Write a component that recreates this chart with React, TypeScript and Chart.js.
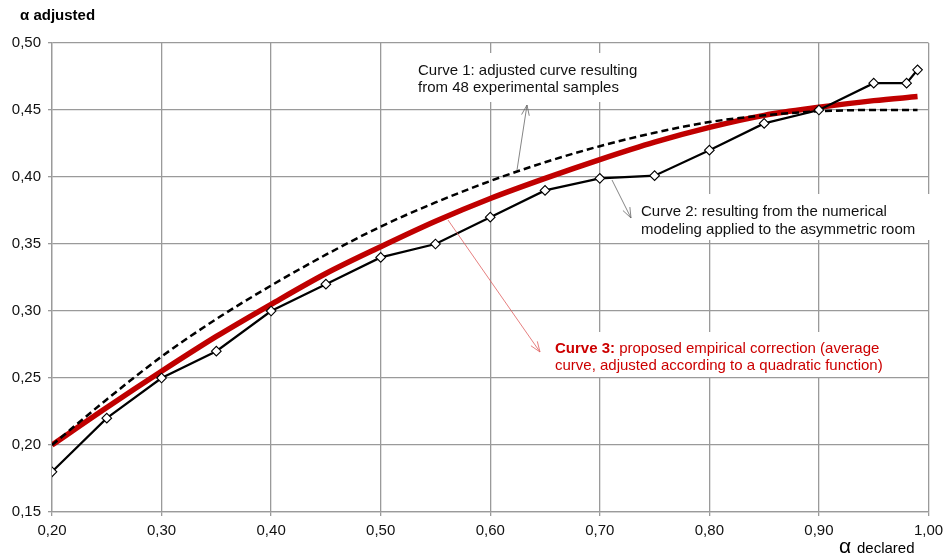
import React, { useEffect, useRef } from "react";
import { Chart, registerables } from "chart.js";

Chart.register(...registerables);

// Curve 2: numerical modelling (markers)
const curve2X = [0.2, 0.25, 0.3, 0.35, 0.4, 0.45, 0.5, 0.55, 0.6, 0.65, 0.7, 0.75, 0.8, 0.85, 0.9, 0.95, 0.98, 0.99];
const curve2Y = [0.18, 0.22, 0.25, 0.27, 0.3, 0.32, 0.34, 0.35, 0.37, 0.39, 0.399, 0.401, 0.42, 0.44, 0.45, 0.47, 0.47, 0.48];

// Curves 1 and 3: fitted curves
const fitX = [0.2, 0.25, 0.3, 0.35, 0.4, 0.45, 0.5, 0.55, 0.6, 0.65, 0.7, 0.75, 0.8, 0.85, 0.9, 0.95, 0.99];
const curve1Y = [0.2, 0.234, 0.266, 0.294, 0.319, 0.342, 0.363, 0.381, 0.397, 0.411, 0.423, 0.433, 0.441, 0.446, 0.449, 0.45, 0.45];
const curve3Y = [0.2, 0.228, 0.255, 0.281, 0.305, 0.328, 0.348, 0.367, 0.384, 0.399, 0.413, 0.426, 0.437, 0.446, 0.452, 0.457, 0.46];

const yTitle = "α adjusted";
const xTitleSymbol = "α";
const xTitleText = "declared";
const note1 = ["Curve 1: adjusted curve resulting", "from 48 experimental samples"];
const note2 = ["Curve 2: resulting from the numerical", "modeling applied to the asymmetric room"];
const note3Bold = "Curve 3:";
const note3 = [" proposed empirical correction (average", "curve, adjusted according to a quadratic function)"];

const FONT = "'Liberation Sans', Arial, Helvetica, sans-serif";
const fmt = (v: number) => v.toFixed(2).replace(".", ",");

function arrow(ctx: CanvasRenderingContext2D, x1: number, y1: number, x2: number, y2: number, color: string) {
  ctx.save();
  ctx.strokeStyle = color;
  ctx.lineWidth = 0.8;
  ctx.beginPath();
  ctx.moveTo(x1, y1);
  ctx.lineTo(x2, y2);
  const a = Math.atan2(y2 - y1, x2 - x1);
  const L = 11;
  const s = 0.36;
  ctx.moveTo(x2, y2);
  ctx.lineTo(x2 - L * Math.cos(a - s), y2 - L * Math.sin(a - s));
  ctx.moveTo(x2, y2);
  ctx.lineTo(x2 - L * Math.cos(a + s), y2 - L * Math.sin(a + s));
  ctx.stroke();
  ctx.restore();
}

const notesPlugin = {
  id: "notes",
  beforeDatasetsDraw(chart: any) {
    const ctx = chart.ctx as CanvasRenderingContext2D;
    ctx.save();
    ctx.fillStyle = "#ffffff";
    ctx.fillRect(410, 53, 245, 49);
    ctx.fillRect(620, 194, 320, 46);
    ctx.fillRect(545, 332, 355, 45);
    ctx.restore();
  },
  afterDatasetsDraw(chart: any) {
    const ctx = chart.ctx as CanvasRenderingContext2D;
    ctx.save();
    ctx.textBaseline = "middle";
    ctx.textAlign = "left";
    ctx.fillStyle = "#111111";
    ctx.font = `15px ${FONT}`;
    ctx.fillText(note1[0], 418, 71);
    ctx.fillText(note1[1], 418, 88);
    ctx.fillText(note2[0], 641, 212);
    ctx.fillText(note2[1], 641, 230);

    ctx.fillStyle = "#cc0000";
    ctx.font = `bold 15px ${FONT}`;
    ctx.fillText(note3Bold, 555, 349);
    const bw = ctx.measureText(note3Bold).width;
    ctx.font = `15px ${FONT}`;
    ctx.fillText(note3[0], 555 + bw, 349);
    ctx.fillText(note3[1], 555, 366);

    // axis titles
    ctx.fillStyle = "#000000";
    ctx.font = `bold 15px ${FONT}`;
    ctx.fillText(yTitle, 20, 16);
    ctx.font = `21px ${FONT}`;
    ctx.fillText(xTitleSymbol, 839, 547);
    ctx.font = `15px ${FONT}`;
    ctx.fillText(xTitleText, 857, 549);

    arrow(ctx, 517, 170, 527, 105, "#666666");
    arrow(ctx, 612, 180, 631, 218, "#666666");
    arrow(ctx, 448, 220, 540, 352, "#e06060");
    ctx.restore();
  },
};

export default function App() {
  const ref = useRef<HTMLCanvasElement | null>(null);
  useEffect(() => {
    if (!ref.current) return;
    const toPts = (xs: number[], ys: number[]) => xs.map((x, i) => ({ x, y: ys[i] }));
    const chart = new Chart(ref.current, {
      type: "line",
      data: {
        datasets: [
          {
            label: "Curve 2",
            data: toPts(curve2X, curve2Y),
            borderColor: "#000000",
            borderWidth: 2.2,
            pointStyle: "rectRot",
            pointRadius: 4.8,
            pointBackgroundColor: "#ffffff",
            pointBorderColor: "#000000",
            pointBorderWidth: 1.1,
            tension: 0,
            order: 1,
          },
          {
            label: "Curve 1",
            data: toPts(fitX, curve1Y),
            borderColor: "#000000",
            borderWidth: 2.5,
            borderDash: [7, 4],
            pointRadius: 0,
            cubicInterpolationMode: "monotone",
            order: 2,
          },
          {
            label: "Curve 3",
            data: toPts(fitX, curve3Y),
            borderColor: "#c00000",
            borderWidth: 5.5,
            pointRadius: 0,
            cubicInterpolationMode: "monotone",
            order: 3,
          },
        ],
      },
      options: {
        animation: false,
        responsive: false,
        maintainAspectRatio: false,
        layout: { padding: { left: 0, top: 43, right: 15.5, bottom: 0 } },
        plugins: { legend: { display: false }, tooltip: { enabled: false }, title: { display: false } },
        scales: {
          x: {
            type: "linear",
            min: 0.2,
            max: 1.0,
            afterFit: (s: any) => {
              s.height = 44;
              s.paddingLeft = 0;
              s.paddingRight = 0;
            },
            ticks: {
              stepSize: 0.1,
              color: "#111111",
              font: { family: FONT, size: 15 },
              padding: 6,
              maxRotation: 0,
              callback: (v: any) => fmt(Number(v)),
            },
            grid: { color: "#9a9a9a", lineWidth: 1.3, tickLength: 4 },
            border: { color: "#9a9a9a", width: 1.3 },
          },
          y: {
            type: "linear",
            min: 0.15,
            max: 0.5,
            afterFit: (s: any) => {
              s.width = 52;
              s.paddingTop = 0;
              s.paddingBottom = 0;
            },
            ticks: {
              stepSize: 0.05,
              color: "#111111",
              font: { family: FONT, size: 15 },
              padding: 7,
              callback: (v: any) => fmt(Number(v)),
            },
            grid: { color: "#9a9a9a", lineWidth: 1.3, tickLength: 4 },
            border: { color: "#9a9a9a", width: 1.3 },
          },
        },
      },
      plugins: [notesPlugin],
    } as any);
    return () => chart.destroy();
  }, []);
  return (
    <div style={{ position: "fixed", left: 0, top: 0, width: 944, height: 556, background: "#ffffff" }}>
      <canvas ref={ref} width={944} height={556} style={{ width: 944, height: 556, display: "block" }} />
    </div>
  );
}
